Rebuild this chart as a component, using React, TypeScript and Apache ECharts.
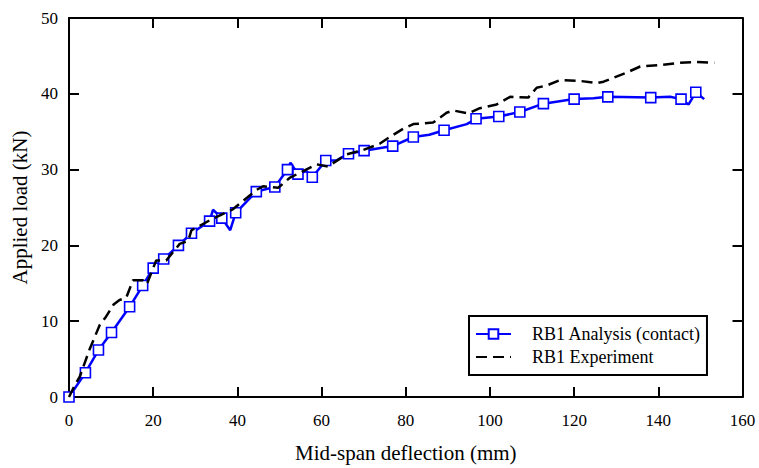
import React, { useEffect, useRef } from "react";
import * as echarts from "echarts";

// Mid-span deflection (mm), applied load (kN), marker flag (1 = square marker shown)
const analysisPoints: [number, number, number][] = [
  [0, 0, 1], [3.9, 3.2, 1], [7.0, 6.2, 1], [10.1, 8.5, 1], [14.4, 11.9, 1],
  [17.5, 14.7, 1], [20.0, 17.0, 1], [22.5, 18.2, 1], [26.0, 20.0, 1], [29.1, 21.6, 1],
  [33.4, 23.2, 1], [34.2, 24.7, 0], [36.3, 23.6, 1], [38.3, 22.0, 0], [39.6, 24.3, 1],
  [44.5, 27.1, 1], [48.9, 27.7, 1], [51.9, 30.0, 1], [52.6, 30.9, 0], [54.4, 29.4, 1],
  [56.4, 29.8, 0], [57.8, 29.0, 1], [61.0, 31.2, 1], [63.5, 31.2, 0], [66.4, 32.1, 1],
  [70.1, 32.5, 1], [76.9, 33.1, 1], [81.8, 34.3, 1], [85.6, 34.6, 0], [89.1, 35.2, 1],
  [94.5, 36.0, 0], [96.7, 36.7, 1], [102.1, 37.0, 1], [107.1, 37.6, 1], [112.7, 38.7, 1],
  [120.0, 39.3, 1], [124.6, 39.4, 0], [128.0, 39.6, 1], [138.2, 39.5, 1], [142.8, 39.6, 0],
  [145.4, 39.3, 1], [147.2, 38.6, 0], [148.9, 40.2, 1], [150.9, 39.3, 0],
];

const experimentPoints: [number, number][] = [
  [0, 0], [1.7, 1.9], [2.5, 2.6], [4.9, 6.3], [7.3, 9.5], [8.8, 10.6], [10.6, 12.2],
  [12.0, 12.8], [13.6, 13.1], [15.2, 15.4], [17.5, 15.4], [18.5, 14.9], [20.7, 18.0],
  [23.1, 18.0], [24.7, 19.1], [26.3, 20.2], [28.3, 20.6], [29.1, 22.0], [33.4, 23.3],
  [39.0, 24.8], [44.5, 27.3], [46.1, 27.8], [49.7, 27.6], [52.4, 28.9], [58.8, 30.7],
  [61.5, 30.4], [65.9, 32.0], [69.9, 32.6], [73.8, 33.4], [76.2, 34.3], [79.4, 35.4],
  [81.8, 36.0], [86.5, 36.2], [89.7, 37.5], [91.3, 37.8], [94.8, 37.4], [97.6, 38.1],
  [101.6, 38.6], [104.8, 39.6], [109.1, 39.5], [111.1, 40.8], [113.5, 41.1], [116.6, 41.8],
  [121.4, 41.7], [125.4, 41.4], [127.0, 41.6], [132.5, 42.8], [135.7, 43.6], [140.4, 43.8],
  [145.2, 44.1], [149.2, 44.2], [153.3, 44.1],
];

const seriesNames = ["RB1 Analysis (contact)", "RB1 Experiment"];
const xTitle = "Mid-span deflection (mm)";
const yTitle = "Applied load (kN)";
const xRange = { min: 0, max: 160, interval: 20 };
const yRange = { min: 0, max: 50, interval: 10 };

const FONT = "Liberation Serif";

export default function App() {
  const ref = useRef<HTMLDivElement>(null);
  useEffect(() => {
    if (!ref.current) return;
    const chart = echarts.init(ref.current, undefined, { renderer: "svg" });
    const axisLine = { show: true, onZero: false, lineStyle: { color: "#000", width: 2 } };
    const axisTick = { show: true, inside: true, length: 10, lineStyle: { color: "#000", width: 2 } };
    const label = { color: "#000", fontFamily: FONT, fontSize: 17 };
    const nameStyle = { color: "#000", fontFamily: FONT, fontSize: 21 };

    chart.setOption({
      animation: false,
      backgroundColor: "#fff",
      textStyle: { fontFamily: FONT },
      grid: { left: 69, top: 18, right: 16.5, bottom: 66.5, containLabel: false },
      xAxis: [
        {
          type: "value", position: "bottom", ...xRange,
          axisLine, axisTick, splitLine: { show: false },
          axisLabel: { ...label, margin: 15 },
          name: xTitle, nameLocation: "middle", nameGap: 45, nameTextStyle: nameStyle,
        },
        {
          type: "value", position: "top", ...xRange,
          axisLine, axisTick, splitLine: { show: false }, axisLabel: { show: false },
        },
      ],
      yAxis: [
        {
          type: "value", position: "left", ...yRange,
          axisLine, axisTick, splitLine: { show: false },
          axisLabel: { ...label, margin: 11 },
          name: yTitle, nameLocation: "middle", nameGap: 36, nameTextStyle: nameStyle,
        },
        {
          type: "value", position: "right", ...yRange,
          axisLine, axisTick, splitLine: { show: false }, axisLabel: { show: false },
        },
      ],
      legend: {
        orient: "vertical",
        left: 469,
        top: 316,
        data: seriesNames,
        backgroundColor: "#fff",
        borderColor: "#000",
        borderWidth: 2,
        borderRadius: 0,
        padding: [9, 6, 9, 6],
        itemWidth: 35,
        itemHeight: 12,
        itemGap: 5,
        textStyle: { color: "#000", fontFamily: FONT, fontSize: 18, lineHeight: 18, padding: [0, 0, 0, 16] },
      },
      series: [
        {
          name: seriesNames[0],
          type: "line",
          xAxisIndex: 0,
          yAxisIndex: 0,
          z: 3,
          symbol: "rect",
          symbolSize: 10,
          showAllSymbol: true,
          lineStyle: { color: "#0000ff", width: 2.5 },
          itemStyle: { color: "#fff", borderColor: "#0000ff", borderWidth: 1.6 },
          data: analysisPoints.map(([x, y, m]) =>
            m ? { value: [x, y] } : { value: [x, y], symbol: "none" }
          ),
        },
        {
          name: seriesNames[1],
          type: "line",
          xAxisIndex: 0,
          yAxisIndex: 0,
          z: 4,
          symbol: "none",
          lineStyle: { color: "#000", width: 2.5, type: [11, 6] },
          itemStyle: { color: "rgba(0,0,0,0)", borderWidth: 0 },
          data: experimentPoints,
        },
      ],
    });
    return () => chart.dispose();
  }, []);
  return <div ref={ref} style={{ position: "fixed", left: 0, top: 0, width: 759, height: 468 }} />;
}
